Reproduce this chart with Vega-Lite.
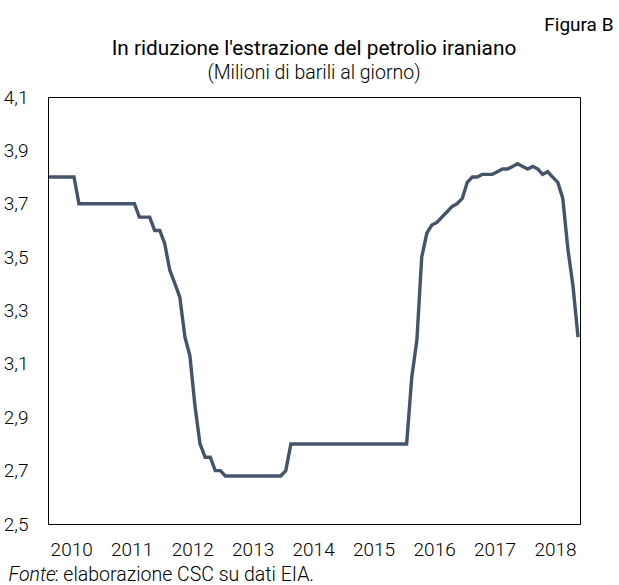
{
  "$schema": "https://vega.github.io/schema/vega-lite/v6.json",
  "width": 532,
  "height": 427,
  "autosize": "none",
  "padding": {"left": 48, "top": 97, "right": 39, "bottom": 61},
  "background": "white",
  "title": {
    "text": "In riduzione l'estrazione del petrolio iraniano",
    "subtitle": "(Milioni di barili al giorno)",
    "anchor": "middle",
    "frame": "group",
    "font": "Roboto",
    "fontSize": 20.8,
    "fontWeight": "normal",
    "color": "#000000",
    "subtitleFont": "Roboto",
    "subtitleFontSize": 19.5,
    "subtitleFontWeight": 300,
    "subtitleColor": "#000000",
    "subtitlePadding": 4,
    "offset": -68
  },
  "data": {
    "values": [
      {"date": "2010-01-01", "value": 3.8},
      {"date": "2010-02-01", "value": 3.8},
      {"date": "2010-03-01", "value": 3.8},
      {"date": "2010-04-01", "value": 3.8},
      {"date": "2010-05-01", "value": 3.8},
      {"date": "2010-06-01", "value": 3.8},
      {"date": "2010-07-01", "value": 3.7},
      {"date": "2010-08-01", "value": 3.7},
      {"date": "2010-09-01", "value": 3.7},
      {"date": "2010-10-01", "value": 3.7},
      {"date": "2010-11-01", "value": 3.7},
      {"date": "2010-12-01", "value": 3.7},
      {"date": "2011-01-01", "value": 3.7},
      {"date": "2011-02-01", "value": 3.7},
      {"date": "2011-03-01", "value": 3.7},
      {"date": "2011-04-01", "value": 3.7},
      {"date": "2011-05-01", "value": 3.7},
      {"date": "2011-06-01", "value": 3.7},
      {"date": "2011-07-01", "value": 3.65},
      {"date": "2011-08-01", "value": 3.65},
      {"date": "2011-09-01", "value": 3.65},
      {"date": "2011-10-01", "value": 3.6},
      {"date": "2011-11-01", "value": 3.6},
      {"date": "2011-12-01", "value": 3.55},
      {"date": "2012-01-01", "value": 3.45},
      {"date": "2012-02-01", "value": 3.4},
      {"date": "2012-03-01", "value": 3.35},
      {"date": "2012-04-01", "value": 3.2},
      {"date": "2012-05-01", "value": 3.13},
      {"date": "2012-06-01", "value": 2.94},
      {"date": "2012-07-01", "value": 2.8},
      {"date": "2012-08-01", "value": 2.75},
      {"date": "2012-09-01", "value": 2.75},
      {"date": "2012-10-01", "value": 2.7},
      {"date": "2012-11-01", "value": 2.7},
      {"date": "2012-12-01", "value": 2.68},
      {"date": "2013-01-01", "value": 2.68},
      {"date": "2013-02-01", "value": 2.68},
      {"date": "2013-03-01", "value": 2.68},
      {"date": "2013-04-01", "value": 2.68},
      {"date": "2013-05-01", "value": 2.68},
      {"date": "2013-06-01", "value": 2.68},
      {"date": "2013-07-01", "value": 2.68},
      {"date": "2013-08-01", "value": 2.68},
      {"date": "2013-09-01", "value": 2.68},
      {"date": "2013-10-01", "value": 2.68},
      {"date": "2013-11-01", "value": 2.68},
      {"date": "2013-12-01", "value": 2.7},
      {"date": "2014-01-01", "value": 2.8},
      {"date": "2014-02-01", "value": 2.8},
      {"date": "2014-03-01", "value": 2.8},
      {"date": "2014-04-01", "value": 2.8},
      {"date": "2014-05-01", "value": 2.8},
      {"date": "2014-06-01", "value": 2.8},
      {"date": "2014-07-01", "value": 2.8},
      {"date": "2014-08-01", "value": 2.8},
      {"date": "2014-09-01", "value": 2.8},
      {"date": "2014-10-01", "value": 2.8},
      {"date": "2014-11-01", "value": 2.8},
      {"date": "2014-12-01", "value": 2.8},
      {"date": "2015-01-01", "value": 2.8},
      {"date": "2015-02-01", "value": 2.8},
      {"date": "2015-03-01", "value": 2.8},
      {"date": "2015-04-01", "value": 2.8},
      {"date": "2015-05-01", "value": 2.8},
      {"date": "2015-06-01", "value": 2.8},
      {"date": "2015-07-01", "value": 2.8},
      {"date": "2015-08-01", "value": 2.8},
      {"date": "2015-09-01", "value": 2.8},
      {"date": "2015-10-01", "value": 2.8},
      {"date": "2015-11-01", "value": 2.8},
      {"date": "2015-12-01", "value": 2.8},
      {"date": "2016-01-01", "value": 3.05},
      {"date": "2016-02-01", "value": 3.19},
      {"date": "2016-03-01", "value": 3.5},
      {"date": "2016-04-01", "value": 3.59},
      {"date": "2016-05-01", "value": 3.62},
      {"date": "2016-06-01", "value": 3.63},
      {"date": "2016-07-01", "value": 3.65},
      {"date": "2016-08-01", "value": 3.67},
      {"date": "2016-09-01", "value": 3.69},
      {"date": "2016-10-01", "value": 3.7},
      {"date": "2016-11-01", "value": 3.72},
      {"date": "2016-12-01", "value": 3.78},
      {"date": "2017-01-01", "value": 3.8},
      {"date": "2017-02-01", "value": 3.8},
      {"date": "2017-03-01", "value": 3.81},
      {"date": "2017-04-01", "value": 3.81},
      {"date": "2017-05-01", "value": 3.81},
      {"date": "2017-06-01", "value": 3.82},
      {"date": "2017-07-01", "value": 3.83},
      {"date": "2017-08-01", "value": 3.83},
      {"date": "2017-09-01", "value": 3.84},
      {"date": "2017-10-01", "value": 3.85},
      {"date": "2017-11-01", "value": 3.84},
      {"date": "2017-12-01", "value": 3.83},
      {"date": "2018-01-01", "value": 3.84},
      {"date": "2018-02-01", "value": 3.83},
      {"date": "2018-03-01", "value": 3.81},
      {"date": "2018-04-01", "value": 3.82},
      {"date": "2018-05-01", "value": 3.8},
      {"date": "2018-06-01", "value": 3.78},
      {"date": "2018-07-01", "value": 3.72},
      {"date": "2018-08-01", "value": 3.53},
      {"date": "2018-09-01", "value": 3.39},
      {"date": "2018-10-01", "value": 3.2}
    ]
  },
  "layer": [
    {
      "mark": {"type": "line", "color": "#44546A", "strokeWidth": 3.4, "clip": true},
      "encoding": {
        "x": {
          "field": "date",
          "type": "temporal",
          "scale": {"type": "utc", "domain": ["2009-12-26", "2018-10-13"]},
          "axis": {
            "orient": "bottom",
            "values": ["2010-05-15", "2011-05-15", "2012-05-15", "2013-05-15", "2014-05-15", "2015-05-15", "2016-05-15", "2017-05-15", "2018-05-15"],
            "format": "%Y",
            "labelFont": "Roboto",
            "labelFontSize": 19,
            "labelFontWeight": 300,
            "labelColor": "#000000",
            "labelPadding": 16,
            "labelFlush": false,
            "labelOverlap": false,
            "ticks": false,
            "domain": false,
            "grid": false,
            "title": "Fonte",
            "titleFont": "Roboto",
            "titleFontSize": 19.5,
            "titleFontWeight": 300,
            "titleFontStyle": "italic",
            "titleColor": "#000000",
            "titleX": -40,
            "titleY": 56,
            "titleAlign": "left",
            "titleBaseline": "alphabetic"
          }
        },
        "y": {
          "field": "value",
          "type": "quantitative",
          "scale": {"domain": [2.5, 4.1], "nice": false, "zero": false},
          "axis": {
            "orient": "left",
            "values": [2.5, 2.7, 2.9, 3.1, 3.3, 3.5, 3.7, 3.9, 4.1],
            "labelExpr": "replace(format(datum.value, '.1f'), '.', ',')",
            "labelFont": "Roboto",
            "labelFontSize": 19,
            "labelFontWeight": 300,
            "labelColor": "#000000",
            "labelPadding": 20,
            "labelAlign": "right",
            "labelFlush": false,
            "labelOverlap": false,
            "ticks": false,
            "domain": false,
            "grid": false,
            "title": null
          }
        }
      }
    },
    {
      "mark": {"type": "line", "strokeOpacity": 0},
      "encoding": {
        "x": {
          "field": "date",
          "type": "temporal",
          "scale": {"type": "utc", "domain": ["2009-12-26", "2018-10-13"]},
          "axis": {
            "orient": "bottom",
            "labels": false,
            "ticks": false,
            "domain": false,
            "grid": false,
            "title": ": elaborazione CSC su dati EIA.",
            "titleFont": "Roboto",
            "titleFontSize": 19.5,
            "titleFontWeight": 300,
            "titleColor": "#000000",
            "titleX": 6,
            "titleY": 56,
            "titleAlign": "left",
            "titleBaseline": "alphabetic"
          }
        },
        "y": {
          "field": "value",
          "type": "quantitative",
          "scale": {"domain": [2.5, 4.1], "nice": false, "zero": false},
          "axis": {
            "orient": "right",
            "labels": false,
            "ticks": false,
            "domain": false,
            "grid": false,
            "title": "Figura B",
            "titleFont": "Roboto",
            "titleFontSize": 19,
            "titleFontWeight": "normal",
            "titleColor": "#000000",
            "titleAngle": 0,
            "titleX": 33,
            "titleY": -67,
            "titleAlign": "right",
            "titleBaseline": "alphabetic"
          }
        }
      }
    }
  ],
  "resolve": {"axis": {"x": "independent", "y": "independent"}},
  "config": {
    "view": {"stroke": "#000000", "strokeWidth": 1}
  }
}
